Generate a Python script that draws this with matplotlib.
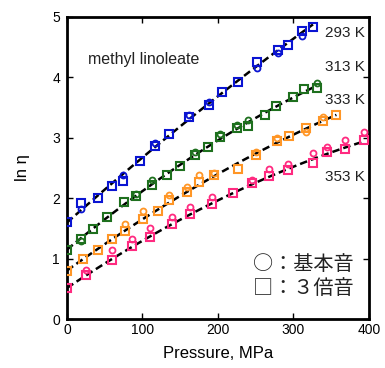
import numpy as np
import matplotlib
matplotlib.use("Agg")
import matplotlib.pyplot as plt

plt.rcParams['font.family'] = ['Liberation Sans', 'Noto Sans CJK JP', 'DejaVu Sans']

# temperatures and colours
temps = ["293 K", "313 K", "333 K", "353 K"]
colors = ["#0a14d2", "#1e701e", "#ff9626", "#ff2a80"]

# squares (3rd overtone) - pressure MPa, ln eta
sq_p = [
    [0, 19, 41, 59, 74, 97, 116, 135, 162, 188, 206, 227, 252, 279, 293, 311, 326],
    [0, 19, 34, 53, 75, 91, 113, 132, 150, 169, 187, 203, 225, 240, 262, 277, 299, 314, 331],
    [0, 21, 41, 59, 77, 101, 120, 135, 159, 175, 195, 227, 251, 278, 294, 317, 339, 357],
    [0, 25, 60, 86, 110, 139, 163, 192, 220, 245, 268, 293, 326, 344, 368, 393],
]
sq_v = [
    [1.60, 1.92, 2.00, 2.20, 2.29, 2.62, 2.87, 3.07, 3.34, 3.55, 3.76, 3.93, 4.25, 4.46, 4.54, 4.76, 4.84],
    [1.15, 1.32, 1.49, 1.69, 1.93, 2.04, 2.22, 2.38, 2.54, 2.72, 2.85, 3.02, 3.16, 3.20, 3.38, 3.53, 3.68, 3.80, 3.83],
    [0.80, 0.99, 1.15, 1.32, 1.46, 1.66, 1.79, 1.97, 2.11, 2.26, 2.38, 2.49, 2.72, 2.94, 3.03, 3.16, 3.28, 3.38],
    [0.51, 0.73, 0.97, 1.21, 1.36, 1.58, 1.74, 1.91, 2.08, 2.25, 2.37, 2.47, 2.58, 2.77, 2.81, 2.97],
]
# circles (fundamental)
ci_p = [
    [19, 74, 116, 162, 188, 252, 279, 311],
    [19, 91, 113, 169, 203, 225, 240, 331],
    [77, 101, 135, 159, 175, 195, 251, 278, 317, 339],
    [25, 60, 86, 110, 139, 163, 192, 245, 268, 293, 326, 344, 368, 393],
]
ci_v = [
    [1.82, 2.38, 2.91, 3.38, 3.59, 4.15, 4.40, 4.68],
    [1.30, 2.07, 2.30, 2.76, 3.07, 3.21, 3.29, 3.91],
    [1.57, 1.78, 2.05, 2.19, 2.38, 2.42, 2.77, 2.99, 3.10, 3.35],
    [0.81, 1.14, 1.32, 1.51, 1.69, 1.86, 2.02, 2.30, 2.49, 2.57, 2.74, 2.85, 2.97, 3.10],
]
label_y = [4.73, 4.17, 3.63, 2.35]

fig = plt.figure(figsize=(3.85, 3.68), dpi=100)
ax = fig.add_axes([0.174, 0.133, 0.784, 0.821])

for i in range(4):
    p = np.array(sq_p[i]); v = np.array(sq_v[i])
    # dashed fit line
    c = np.polyfit(p, v, 2)
    xx = np.linspace(0, p.max(), 100)
    ax.plot(xx, np.polyval(c, xx), color='black', ls=(0, (3, 1.6)), lw=1.8, zorder=2)
    ax.plot(ci_p[i], ci_v[i], 'o', mfc='none', mec=colors[i], ms=4.3, mew=1.3, zorder=3)
    ax.plot(p, v, 's', mfc='none', mec=colors[i], ms=5.2, mew=1.5, zorder=4)
    ax.text(395, label_y[i], temps[i], ha='right', va='center', fontsize=11, color='#222222')

ax.text(28, 4.29, "methyl linoleate", va='center', fontsize=11.5, color='#222222')
ax.text(246, 0.91, "○：基本音", va='center', fontsize=14.5, color='#222222',
        family=['Noto Sans CJK JP'])
ax.text(246, 0.51, "□：３倍音", va='center', fontsize=14.5, color='#222222',
        family=['Noto Sans CJK JP'])

ax.set_xlim(0, 400)
ax.set_ylim(0, 5)
ax.set_xticks([0, 100, 200, 300, 400])
ax.set_yticks([0, 1, 2, 3, 4, 5])
ax.tick_params(direction='in', top=True, right=True, length=4, width=1, labelsize=10, pad=3)
ax.tick_params(axis='y', pad=5)
for s in ax.spines.values():
    s.set_linewidth(2)
ax.set_xlabel("Pressure, MPa", fontsize=12, labelpad=6)
ax.set_ylabel("ln η", fontsize=12, labelpad=16)

fig.savefig("out.png", dpi=100)
